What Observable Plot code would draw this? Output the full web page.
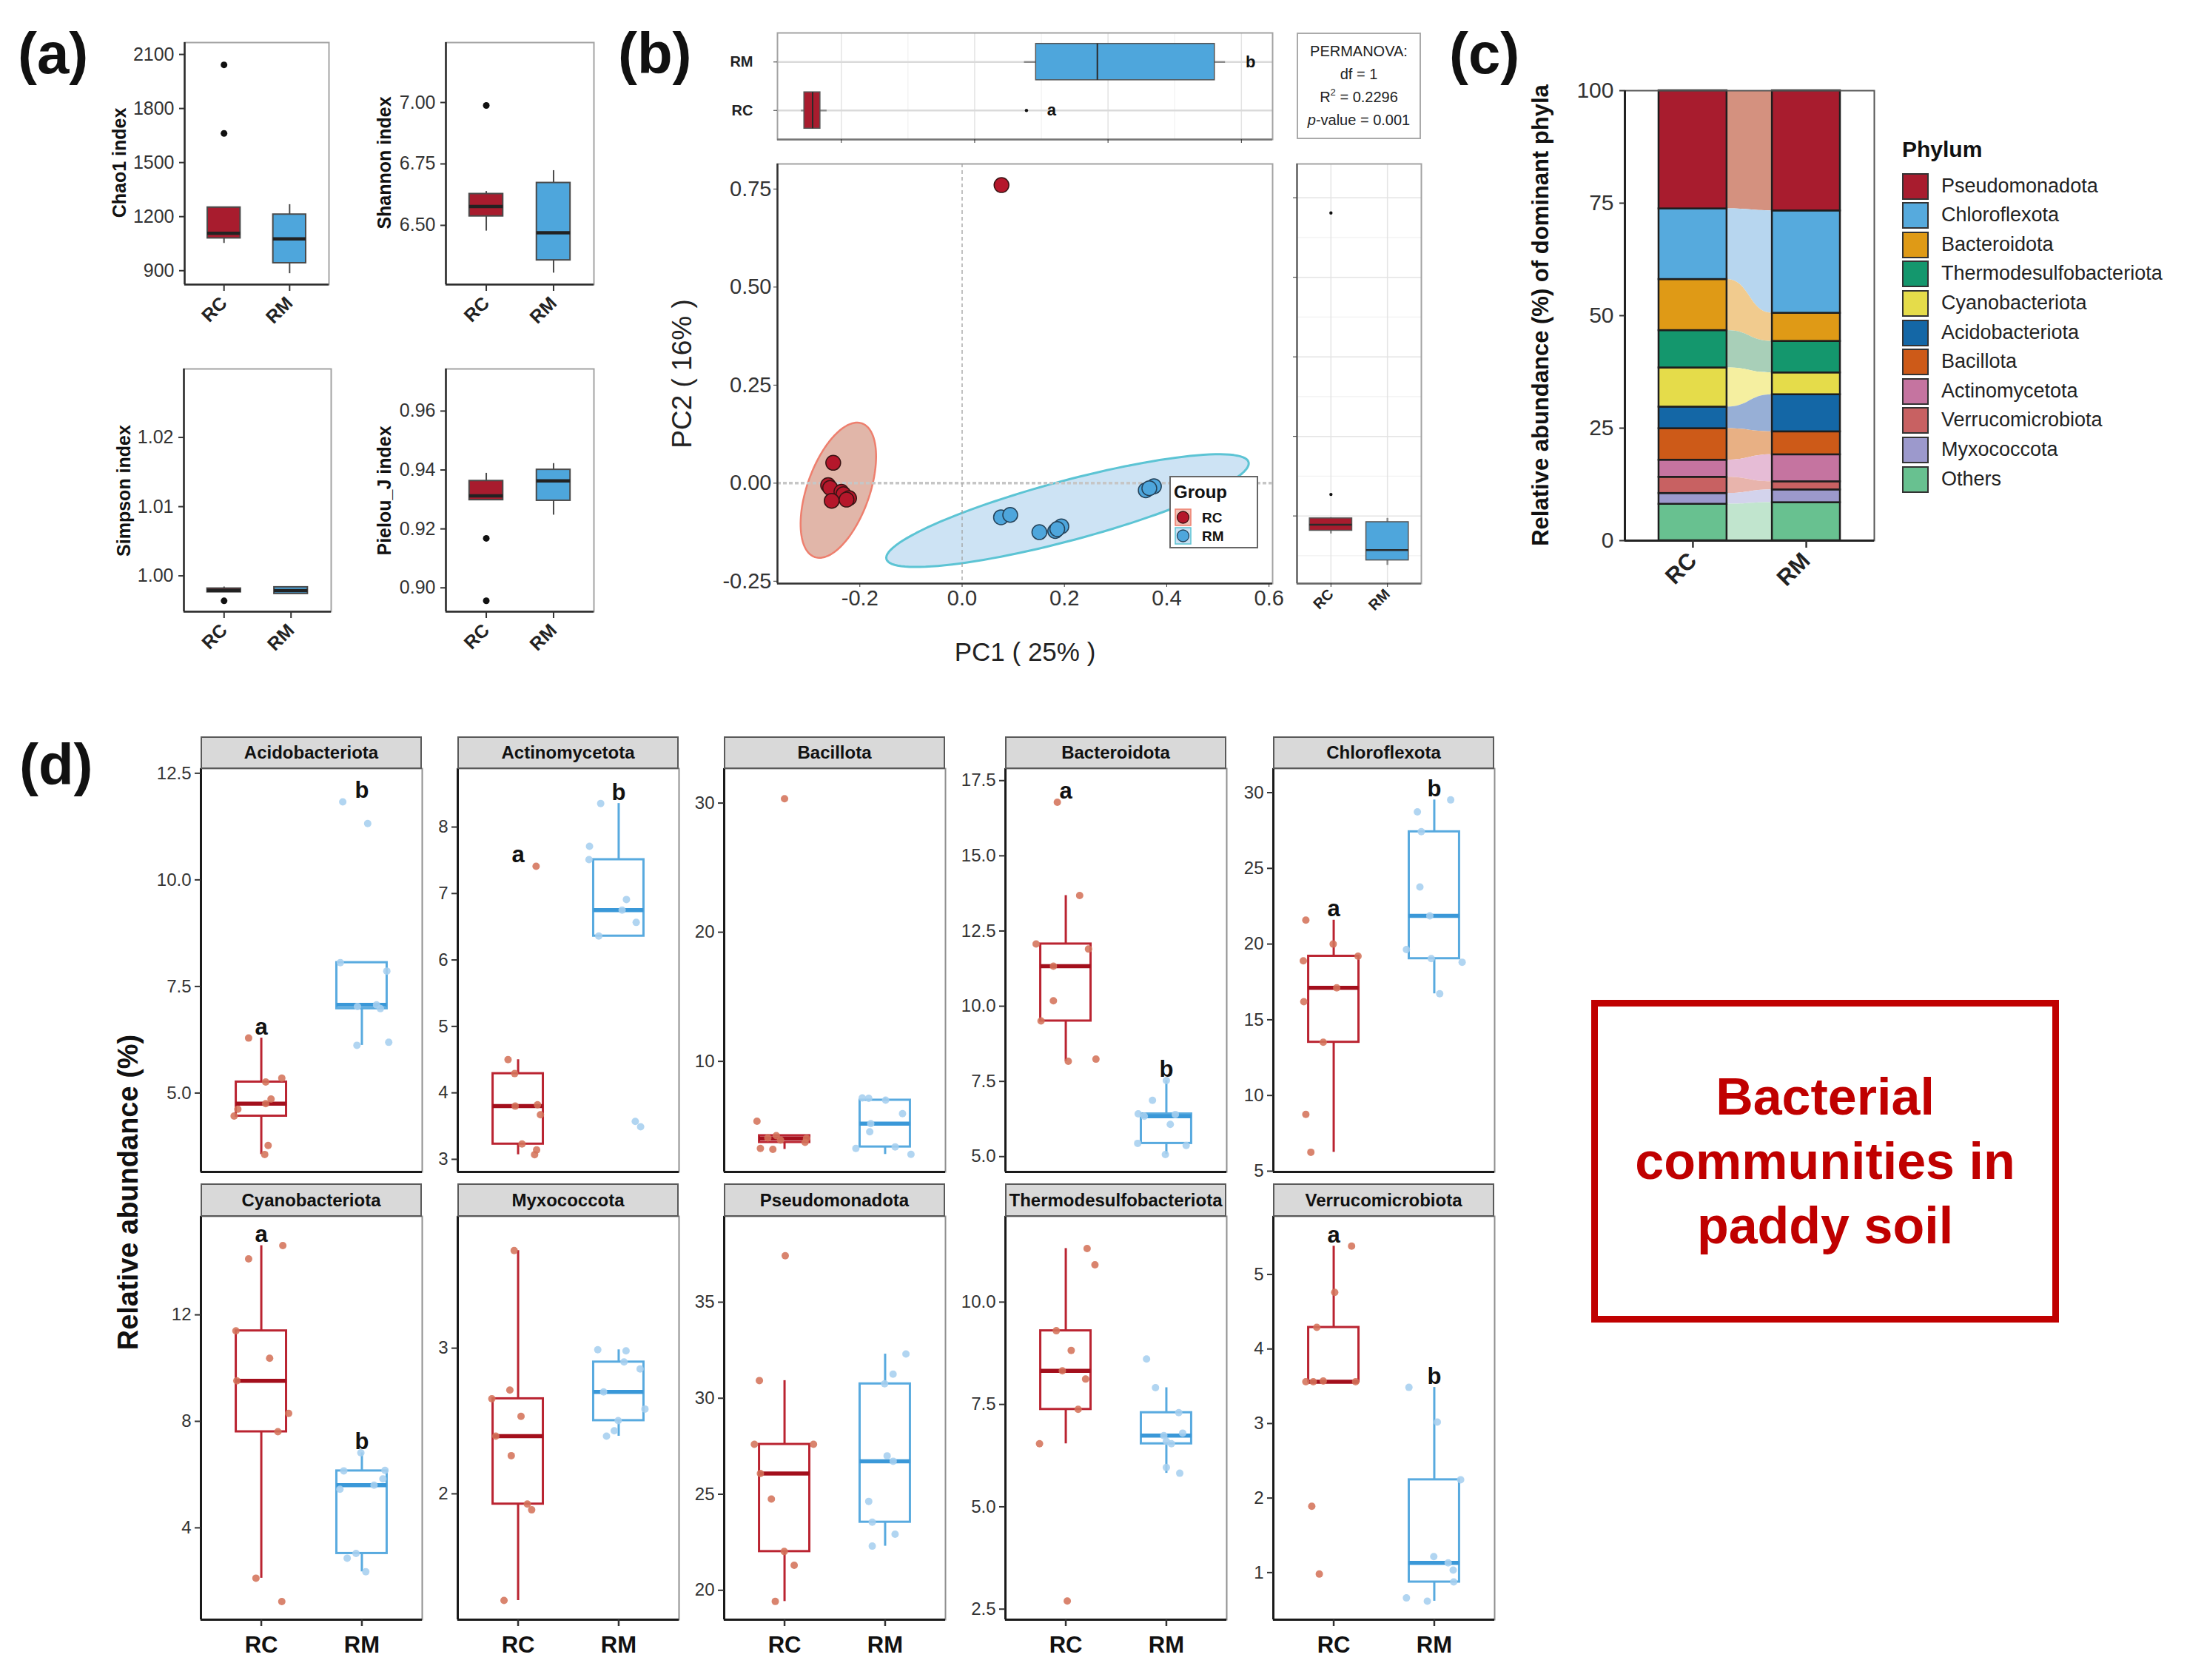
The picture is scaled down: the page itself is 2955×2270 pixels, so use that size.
<!DOCTYPE html>
<html><head><meta charset="utf-8">
<script src="https://cdn.jsdelivr.net/npm/d3@7"></script>
<script src="https://cdn.jsdelivr.net/npm/@observablehq/plot@0.6"></script>
<style>
body{margin:0;background:#fff;}
#fig{position:relative;width:2955px;height:2270px;overflow:hidden;background:#fff;font-family:"Liberation Sans",Arial,Helvetica,sans-serif;color:#111;}
.t{position:absolute;white-space:nowrap;line-height:1;}
.rot{position:absolute;white-space:nowrap;line-height:1;transform:translate(-50%,-50%) rotate(-90deg);}
</style></head>
<body><div id="fig"></div>
<script>
// ---------------- DATA ----------------
const groups = ["RC", "RM"];

// (a) alpha diversity box summaries
const chao1Box = [{group:"RC", lo:1052, q1:1080, med:1107, q3:1251, hi:1251}, {group:"RM", lo:884, q1:942, med:1077, q3:1212, hi:1267}];
const chao1Out = [{group:"RC", v:2042}, {group:"RC", v:1662}];
const chao1Ticks = [900, 1200, 1500, 1800, 2100];
const shannonBox = [{group:"RC", lo:6.477, q1:6.537, med:6.577, q3:6.628, hi:6.638}, {group:"RM", lo:6.306, q1:6.358, med:6.47, q3:6.673, hi:6.723}];
const shannonOut = [{group:"RC", v:6.988}];
const shannonTicks = [6.50, 6.75, 7.00];
const simpsonBox = [{group:"RC", lo:0.99764, q1:0.99764, med:0.9979, q3:0.99818, hi:0.9984}, {group:"RM", lo:0.9974, q1:0.9974, med:0.99786, q3:0.99836, hi:0.99836}];
const simpsonOut = [{group:"RC", v:0.99639}];
const simpsonTicks = [1.00, 1.01, 1.02];
const pielouBox = [{group:"RC", lo:0.9298, q1:0.9298, med:0.9312, q3:0.9363, hi:0.9389}, {group:"RM", lo:0.9247, q1:0.9296, med:0.9363, q3:0.9401, hi:0.9422}];
const pielouOut = [{group:"RC", v:0.9168}, {group:"RC", v:0.8956}];
const pielouTicks = [0.90, 0.92, 0.94, 0.96];

// (b) PCoA
const pcoaRC = [{pc1:-0.252, pc2:0.052}, {pc1:-0.262, pc2:-0.005}, {pc1:-0.258, pc2:-0.012}, {pc1:-0.236, pc2:-0.022}, {pc1:-0.232, pc2:-0.028}, {pc1:-0.221, pc2:-0.038}, {pc1:-0.255, pc2:-0.045}, {pc1:-0.226, pc2:-0.042}, {pc1:0.077, pc2:0.76}];
const pcoaRM = [{pc1:0.076, pc2:-0.087}, {pc1:0.094, pc2:-0.081}, {pc1:0.151, pc2:-0.125}, {pc1:0.182, pc2:-0.122}, {pc1:0.194, pc2:-0.110}, {pc1:0.186, pc2:-0.117}, {pc1:0.359, pc2:-0.018}, {pc1:0.375, pc2:-0.008}, {pc1:0.366, pc2:-0.013}];
const ellipseRC = {cx:-0.242, cy:-0.018, ux:0.047, uy:0.170, vx:0.0569, vy:-0.0287};
const ellipseRM = {cx:0.206, cy:-0.070, ux:0.354, uy:0.1235, vx:0.015, vy:-0.0736};
const pc1Box = [{group:"RC", lo:-0.26, q1:-0.2555, med:-0.243, q3:-0.2315, hi:-0.2215}, {group:"RM", lo:0.0745, q1:0.092, med:0.184, q3:0.36, hi:0.376}];
const pc1Out = [{group:"RC", v:0.0777}];
const pc2Box = [{group:"RC", lo:-0.045, q1:-0.037, med:-0.022, q3:-0.006, hi:-0.004}, {group:"RM", lo:-0.124, q1:-0.1116, med:-0.0856, q3:-0.0155, hi:-0.006}];
const pc2Out = [{group:"RC", v:0.054}, {group:"RC", v:0.7617}];
const pc1Letters = {RC:"a", RM:"b"};
const pcXTicks = [-0.2, 0, 0.2, 0.4, 0.6];
const pcYTicks = [-0.25, 0, 0.25, 0.5, 0.75];

// (c) composition (%)
const phylaOrder = ["Pseudomonadota","Chloroflexota","Bacteroidota","Thermodesulfobacteriota","Cyanobacteriota","Acidobacteriota","Bacillota","Actinomycetota","Verrucomicrobiota","Myxococcota","Others"];
const phylaColors = ["#A81C2E","#56AADD","#DF9A16","#14976D","#E5DC4A","#1467A6","#CD5A18","#C574A0","#C86162","#9C99CC","#68C190"];
const flowColors = ["#D4917F","#B7D6EF","#F1CB8E","#A8CFB8","#F5EFA0","#97AFD6","#E8B084","#E6BCD6","#E8B4AC","#D3D3EC","#C1E5CE"];
const compRC = [26.25, 15.7, 11.35, 8.3, 8.7, 4.8, 7.0, 3.8, 3.6, 2.4, 8.1];
const compRM = [26.7, 22.75, 6.25, 7.0, 4.85, 8.25, 5.1, 6.0, 1.8, 2.85, 8.45];
const compTicks = [0, 25, 50, 75, 100];

// (d) relative abundance per sample
const facetPhyla = ["Acidobacteriota","Actinomycetota","Bacillota","Bacteroidota","Chloroflexota","Cyanobacteriota","Myxococcota","Pseudomonadota","Thermodesulfobacteriota","Verrucomicrobiota"];
const rcAbund = {
  Acidobacteriota:[6.29,5.26,5.35,4.86,4.75,4.46,4.62,3.77,3.56],
  Actinomycetota:[7.41,4.50,4.29,3.80,3.82,3.67,3.23,3.14,3.07],
  Bacillota:[30.33,5.37,3.26,3.19,4.25,4.04,3.73,4.08,3.9],
  Bacteroidota:[16.78,13.68,12.07,11.9,11.33,10.18,9.51,8.17,8.24],
  Chloroflexota:[21.58,20.0,19.2,18.89,17.11,16.19,13.52,8.75,6.25],
  Cyanobacteriota:[14.6,14.1,11.4,10.37,9.52,8.3,7.61,2.11,1.23],
  Myxococcota:[3.67,2.712,2.653,2.532,2.396,2.262,1.93,1.89,1.268],
  Pseudomonadota:[37.42,30.92,27.6,27.6,26.08,24.75,22.02,21.30,19.42],
  Thermodesulfobacteriota:[11.31,10.91,9.30,8.82,8.32,8.12,7.38,6.54,2.70],
  Verrucomicrobiota:[5.38,4.76,4.29,3.56,3.56,3.57,3.56,1.89,0.98]
};
const rcJitter = {
  Acidobacteriota:[-0.126,0.044,0.204,0.097,0.044,-0.27,-0.233,0.068,0.034],
  Actinomycetota:[0.179,-0.10,-0.034,-0.029,0.193,0.222,0.039,0.184,0.164],
  Bacillota:[0,-0.274,-0.24,-0.116,-0.082,0.219,0.204,-0.166,-0.04],
  Bacteroidota:[-0.084,0.138,-0.295,0.226,-0.123,-0.123,-0.246,0.025,0.3],
  Chloroflexota:[-0.277,-0.005,0.242,-0.302,0.03,-0.297,-0.104,-0.277,-0.227],
  Cyanobacteriota:[0.214,-0.126,-0.252,0.083,-0.243,0.272,0.165,-0.053,0.204],
  Myxococcota:[-0.039,-0.082,-0.261,0.029,-0.222,-0.068,0.092,0.135,-0.14],
  Pseudomonadota:[0.007,-0.25,-0.3,0.288,-0.24,-0.131,-0.003,0.096,-0.092],
  Thermodesulfobacteriota:[0.212,0.29,-0.094,0.054,-0.034,0.197,0.123,-0.261,0.015],
  Verrucomicrobiota:[0.178,0.01,-0.168,-0.277,-0.203,-0.104,0.218,-0.218,-0.143]
};
const rmAbund = {
  Acidobacteriota:[11.83,11.32,8.06,7.86,7.03,7.07,6.98,6.12,6.19],
  Actinomycetota:[8.355,7.71,7.51,6.91,6.75,6.565,6.36,3.57,3.49],
  Bacillota:[7.17,7.14,7.0,5.95,5.18,4.55,3.38,3.26,2.80],
  Bacteroidota:[7.53,6.87,6.42,6.40,6.34,6.07,5.44,5.37,5.07],
  Chloroflexota:[29.52,28.73,27.42,23.77,21.86,19.64,19.04,18.8,16.72],
  Cyanobacteriota:[6.82,6.14,5.84,5.60,5.45,3.04,2.86,2.35,6.16],
  Myxococcota:[2.989,2.982,2.905,2.857,2.70,2.582,2.503,2.433,2.396],
  Pseudomonadota:[32.3,31.25,30.75,27.0,26.72,24.63,23.55,22.92,22.3],
  Thermodesulfobacteriota:[8.61,7.91,7.30,6.80,6.74,6.60,5.96,5.82,6.54],
  Verrucomicrobiota:[3.485,3.02,2.246,1.215,1.13,1.034,0.874,0.66,0.617]
};
const rmJitter = {
  Acidobacteriota:[-0.19,0.058,-0.214,0.248,-0.044,0.146,0.184,-0.049,0.267],
  Actinomycetota:[-0.179,-0.29,-0.295,0.077,0.034,0.174,-0.198,0.165,0.218],
  Bacillota:[-0.227,-0.163,0.005,0.173,-0.143,-0.153,0.1,-0.291,0.257],
  Bacteroidota:[0,-0.138,-0.28,0.089,-0.22,0.039,-0.285,0.197,-0.01],
  Chloroflexota:[0.163,-0.168,-0.129,-0.143,-0.044,-0.277,-0.03,0.277,0.054],
  Cyanobacteriota:[-0.01,-0.18,0.209,0.121,-0.218,-0.058,-0.146,0.039,0.23],
  Myxococcota:[-0.208,0.073,0.053,0.213,-0.15,0.261,-0.005,-0.044,-0.121],
  Pseudomonadota:[0.207,0.079,-0.005,0.02,0.08,-0.163,-0.128,0.099,-0.128],
  Thermodesulfobacteriota:[-0.197,-0.108,0.123,0.162,-0.025,0,0,0.133,0.05],
  Verrucomicrobiota:[-0.252,0.03,0.262,-0.005,0.138,0.188,0.193,-0.277,-0.069]
};
const facetTicks = {
  Acidobacteriota:[5,7.5,10,12.5], Actinomycetota:[3,4,5,6,7,8], Bacillota:[10,20,30],
  Bacteroidota:[5,7.5,10,12.5,15,17.5], Chloroflexota:[5,10,15,20,25,30], Cyanobacteriota:[4,8,12],
  Myxococcota:[2,3], Pseudomonadota:[20,25,30,35], Thermodesulfobacteriota:[2.5,5,7.5,10], Verrucomicrobiota:[1,2,3,4,5]
};
const sigLetters = {Acidobacteriota:["a","b"], Actinomycetota:["a","b"], Bacteroidota:["a","b"], Chloroflexota:["a","b"], Cyanobacteriota:["a","b"], Verrucomicrobiota:["a","b"]};

// ---------------- LAYOUT / STYLE ----------------
const FONT = '"Liberation Sans", Arial, Helvetica, sans-serif';
const fig = document.getElementById("fig");
const gpos = {RC:1, RM:2};
const RED = "#A81C2E", BLUE = "#4EA6DC";
const facetDomains = {
  Acidobacteriota:[3.15,12.61], Actinomycetota:[2.81,8.88], Bacillota:[1.44,32.67], Bacteroidota:[4.49,17.9],
  Chloroflexota:[4.95,31.59], Cyanobacteriota:[0.55,15.7], Myxococcota:[1.136,3.905], Pseudomonadota:[18.47,39.47],
  Thermodesulfobacteriota:[2.242,12.095], Verrucomicrobiota:[0.368,5.78]
};

function put(el, left, top) { el.style.position = "absolute"; el.style.left = left + "px"; el.style.top = top + "px"; fig.appendChild(el); return el; }
function mkPlot(fr, m, opts) {
  const p = Plot.plot(Object.assign({
    width: fr.w + m.l + m.r, height: fr.h + m.t + m.b,
    marginLeft: m.l, marginTop: m.t, marginRight: m.r, marginBottom: m.b,
    style: {fontFamily: FONT, background: "transparent", overflow: "visible", color: "#333"}
  }, opts));
  return put(p, fr.x - m.l, fr.y - m.t);
}
function div(html, left, top, css) {
  const d = document.createElement("div"); d.className = "t"; d.innerHTML = html;
  d.style.left = left + "px"; d.style.top = top + "px"; if (css) d.style.cssText += css; fig.appendChild(d); return d;
}
function vtitle(txt, cx, cy, css) {
  const d = document.createElement("div"); d.className = "rot"; d.textContent = txt;
  d.style.left = cx + "px"; d.style.top = cy + "px"; if (css) d.style.cssText += css; fig.appendChild(d); return d;
}
const gLabel = d => groups[d - 1];

// vertical box summary marks
function vBoxes(box, outl, o) {
  const ms = [];
  for (const g of groups) {
    const c = gpos[g], st = box.filter(d => d.group === g);
    ms.push(
      Plot.ruleX(st, {x: () => c, y1: "lo", y2: "q1", stroke: o.line, strokeWidth: o.lw}),
      Plot.ruleX(st, {x: () => c, y1: "q3", y2: "hi", stroke: o.line, strokeWidth: o.lw}),
      Plot.rect(st, {x1: () => c - o.w / 2, x2: () => c + o.w / 2, y1: "q1", y2: "q3", fill: o.fill[g], stroke: o.line, strokeWidth: o.lw}),
      Plot.ruleY(st, {y: "med", x1: () => c - o.w / 2, x2: () => c + o.w / 2, stroke: o.med, strokeWidth: o.mw}),
      Plot.dot(outl.filter(d => d.group === g), {x: () => c, y: "v", r: o.r, fill: "#111", stroke: "none"})
    );
  }
  return ms;
}

// ---------------- (a) ----------------
function alphaPlot(fr, box, outl, ticks, domain, fmt) {
  return mkPlot(fr, {l: 100, t: 4, r: 4, b: 90}, {
    x: {domain: [0.4, 2.6], axis: null},
    y: {domain, axis: null},
    marks: [
      Plot.frame({stroke: "#a3a3a3", strokeWidth: 2}),
      ...vBoxes(box, outl, {w: 0.5, fill: {RC: RED, RM: BLUE}, line: "#4a4a4a", lw: 2, med: "#222", mw: 4.5, r: 4.5}),
      Plot.ruleX([0.4], {stroke: "#2a2a2a", strokeWidth: 2.5}),
      Plot.ruleY([domain[0]], {stroke: "#2a2a2a", strokeWidth: 2.5}),
      Plot.axisY({ticks, tickFormat: fmt, tickSize: 7, tickPadding: 7, fontSize: 25, fill: "#333", strokeWidth: 2, label: null}),
      Plot.axisX({ticks: [1, 2], tickFormat: gLabel, tickRotate: -45, tickSize: 9, tickPadding: 12, fontSize: 25, fontWeight: "bold", fill: "#222", strokeWidth: 2, label: null})
    ]
  });
}
alphaPlot({x: 249, y: 57, w: 195, h: 327}, chao1Box, chao1Out, chao1Ticks, [823, 2166], d => String(d));
alphaPlot({x: 602, y: 57, w: 200, h: 327}, shannonBox, shannonOut, shannonTicks, [6.259, 7.244], d => d.toFixed(2));
alphaPlot({x: 248, y: 498, w: 199, h: 328}, simpsonBox, simpsonOut, simpsonTicks, [0.99482, 1.0299], d => d.toFixed(2));
alphaPlot({x: 602, y: 498, w: 200, h: 328}, pielouBox, pielouOut, pielouTicks, [0.8919, 0.9743], d => d.toFixed(2));
vtitle("Chao1 index", 161, 220, "font-weight:bold;font-size:25px;");
vtitle("Shannon index", 519, 220, "font-weight:bold;font-size:25px;");
vtitle("Simpson index", 167, 663, "font-weight:bold;font-size:25px;");
vtitle("Pielou_J index", 519, 663, "font-weight:bold;font-size:25px;");

// ---------------- (b) ----------------
function ellipsePts(e) {
  return d3.range(0, 360, 3).map(a => { const t = a * Math.PI / 180; return {x: e.cx + e.ux * Math.cos(t) + e.vx * Math.sin(t), y: e.cy + e.uy * Math.cos(t) + e.vy * Math.sin(t)}; });
}
const xDomPC = [-0.361, 0.607], yDomPC = [-0.256, 0.814];
mkPlot({x: 1050, y: 221, w: 669, h: 567}, {l: 90, t: 4, r: 4, b: 50}, {
  x: {domain: xDomPC, axis: null}, y: {domain: yDomPC, axis: null},
  marks: [
    Plot.frame({stroke: "#a3a3a3", strokeWidth: 2}),
    Plot.line(ellipsePts(ellipseRC), {x: "x", y: "y", curve: "linear-closed", fill: "#C97A63", fillOpacity: 0.55, stroke: "#EE7F6E", strokeWidth: 2.5}),
    Plot.line(ellipsePts(ellipseRM), {x: "x", y: "y", curve: "linear-closed", fill: "#9CC8EA", fillOpacity: 0.5, stroke: "#5CC4D4", strokeWidth: 3}),
    Plot.ruleY([0], {stroke: "#c6c6c6", strokeWidth: 3.5, strokeDasharray: "5 3"}),
    Plot.ruleX([0], {stroke: "#a0a0a0", strokeWidth: 1.3, strokeDasharray: "5 4"}),
    Plot.dot(pcoaRC, {x: "pc1", y: "pc2", r: 10, fill: "#B5172B", stroke: "#3a1414", strokeWidth: 1.5}),
    Plot.dot(pcoaRM, {x: "pc1", y: "pc2", r: 10, fill: "#4EA6DC", stroke: "#24435a", strokeWidth: 1.5}),
    Plot.ruleX([xDomPC[0]], {stroke: "#333", strokeWidth: 2.5}),
    Plot.ruleY([yDomPC[0]], {stroke: "#333", strokeWidth: 2.5}),
    Plot.axisX({ticks: pcXTicks, tickFormat: d => d.toFixed(1), tickSize: 5, tickPadding: 4, fontSize: 29, fill: "#333", label: null}),
    Plot.axisY({ticks: pcYTicks, tickFormat: d => d.toFixed(2), tickSize: 5, tickPadding: 3, fontSize: 29, fill: "#333", label: null})
  ]
});
// top marginal box (PC1)
const pc1Dom = [-0.2957, 0.4468];
const pc1Marks = [
  Plot.ruleX([-0.1, 0.1, 0.3], {stroke: "#f1f1f1", strokeWidth: 1.2}),
  Plot.ruleX([-0.2, 0, 0.2, 0.4], {stroke: "#e4e4e4", strokeWidth: 1.5}),
  Plot.ruleY([1, 2], {stroke: "#dadada", strokeWidth: 2.5})
];
for (const g of groups) {
  const c = gpos[g], st = pc1Box.filter(d => d.group === g), w = 0.75;
  pc1Marks.push(
    Plot.ruleY(st, {y: () => c, x1: "lo", x2: "q1", stroke: "#8d8d8d", strokeWidth: 2.5}),
    Plot.ruleY(st, {y: () => c, x1: "q3", x2: "hi", stroke: "#8d8d8d", strokeWidth: 2.5}),
    Plot.rect(st, {y1: () => c - w / 2, y2: () => c + w / 2, x1: "q1", x2: "q3", fill: g === "RC" ? RED : BLUE, stroke: "#555", strokeWidth: 1.5}),
    Plot.ruleX(st, {x: "med", y1: () => c - w / 2, y2: () => c + w / 2, stroke: "#2a2a2a", strokeWidth: 2}),
    Plot.dot(pc1Out.filter(d => d.group === g), {x: "v", y: () => c, r: 2.2, fill: "#111", stroke: "none"})
  );
}
const pc1LetterRows = groups.map(g => ({group: g, t: pc1Letters[g], x: d3.max([...pc1Box.filter(d => d.group === g).map(d => d.hi), ...pc1Out.filter(d => d.group === g).map(d => d.v)])}));
pc1Marks.push(
  Plot.text(pc1LetterRows, {x: "x", y: d => gpos[d.group], text: "t", dx: 34, fontSize: 22, fontWeight: "bold", fill: "#111"}),
  Plot.frame({stroke: "#a3a3a3", strokeWidth: 2}),
  Plot.ruleY([0.4], {stroke: "#777", strokeWidth: 2.5}),
  Plot.axisY({ticks: [1, 2], tickFormat: gLabel, tickSize: 5, tickPadding: 28, fontSize: 20, fontWeight: "bold", fill: "#222", label: null}),
  Plot.axisX({ticks: [-0.2, 0, 0.2, 0.4], tickFormat: () => "", tickSize: 5, label: null})
);
mkPlot({x: 1050, y: 44, w: 669, h: 144}, {l: 80, t: 2, r: 4, b: 12}, {
  x: {domain: pc1Dom, axis: null}, y: {domain: [0.4, 2.6], axis: null}, marks: pc1Marks
});
// right marginal box (PC2)
const pc2Dom = [-0.170, 0.885];
const pc2Marks = [
  Plot.ruleY([-0.1, 0.1, 0.3, 0.5, 0.7], {stroke: "#f1f1f1", strokeWidth: 1.2}),
  Plot.ruleY([0, 0.2, 0.4, 0.6, 0.8], {stroke: "#e4e4e4", strokeWidth: 1.5}),
  Plot.ruleX([1, 2], {stroke: "#e4e4e4", strokeWidth: 1.5})
];
for (const g of groups) {
  const c = gpos[g], st = pc2Box.filter(d => d.group === g), w = 0.75;
  pc2Marks.push(
    Plot.ruleX(st, {x: () => c, y1: "lo", y2: "q1", stroke: "#8d8d8d", strokeWidth: 2.5}),
    Plot.ruleX(st, {x: () => c, y1: "q3", y2: "hi", stroke: "#8d8d8d", strokeWidth: 2.5}),
    Plot.rect(st, {x1: () => c - w / 2, x2: () => c + w / 2, y1: "q1", y2: "q3", fill: g === "RC" ? RED : BLUE, stroke: "#555", strokeWidth: 1.5}),
    Plot.ruleY(st, {y: "med", x1: () => c - w / 2, x2: () => c + w / 2, stroke: "#2a2a2a", strokeWidth: 2.5}),
    Plot.dot(pc2Out.filter(d => d.group === g), {x: () => c, y: "v", r: 2.2, fill: "#111", stroke: "none"})
  );
}
pc2Marks.push(
  Plot.frame({stroke: "#a3a3a3", strokeWidth: 2}),
  Plot.ruleX([0.4], {stroke: "#666", strokeWidth: 2.5}),
  Plot.ruleY([pc2Dom[0]], {stroke: "#666", strokeWidth: 2.5}),
  Plot.axisY({ticks: [0, 0.2, 0.4, 0.6, 0.8], tickFormat: () => "", tickSize: 5, label: null}),
  Plot.axisX({ticks: [1, 2], tickFormat: gLabel, tickRotate: -45, tickSize: 5, tickPadding: 6, fontSize: 20, fontWeight: "bold", fill: "#222", label: null})
);
mkPlot({x: 1752, y: 221, w: 168, h: 567}, {l: 10, t: 2, r: 4, b: 60}, {
  x: {domain: [0.4, 2.6], axis: null}, y: {domain: pc2Dom, axis: null}, marks: pc2Marks
});
// PERMANOVA box
div('<div style="text-align:center;white-space:nowrap;">PERMANOVA:<br>df = 1<br>R<sup style="font-size:13px;vertical-align:9px;line-height:0">2</sup> = 0.2296<br><i>p</i>-value = 0.001</div>', 1752, 44,
  "width:168px;height:144px;box-sizing:border-box;border:2px solid #aaa;display:flex;align-items:center;justify-content:center;font-size:20px;line-height:31px;color:#222;background:#fff;");
// Group legend
div('<div style="position:absolute;left:4px;top:8px;font-weight:bold;font-size:24px;">Group</div>' +
  '<svg style="position:absolute;left:5px;top:42px" width="24" height="50">' +
  '<rect x="1" y="1" width="21" height="22" fill="#F2C0B5" stroke="#EE7F6E" stroke-width="1.5"/><circle cx="11.5" cy="12" r="8" fill="#B5172B" stroke="#3a1414" stroke-width="1.3"/>' +
  '<rect x="1" y="26" width="21" height="22" fill="#C8E1F3" stroke="#5CC4D4" stroke-width="1.5"/><circle cx="11.5" cy="37" r="8" fill="#4EA6DC" stroke="#24435a" stroke-width="1.3"/></svg>' +
  '<div style="position:absolute;left:42px;top:45px;font-weight:bold;font-size:19px;">RC</div>' +
  '<div style="position:absolute;left:42px;top:70px;font-weight:bold;font-size:19px;">RM</div>', 1580, 643,
  "width:120px;height:98px;box-sizing:border-box;border:2px solid #666;background:#fff;");
vtitle("PC2 ( 16% )", 921, 505, "font-size:37px;color:#222;");
div("PC1 ( 25% )", 1385, 880, "font-size:35px;color:#222;transform:translate(-50%,-50%);");

// ---------------- (c) ----------------
const stackRows = [];
for (const [g, comp] of [["RC", compRC], ["RM", compRM]]) {
  let acc = 0;
  for (let i = phylaOrder.length - 1; i >= 0; --i) { stackRows.push({group: g, phylum: phylaOrder[i], y1: acc, y2: acc + comp[i]}); acc += comp[i]; }
}
const flowRows = [];
for (const p of phylaOrder) {
  const a = stackRows.find(d => d.group === "RC" && d.phylum === p), b = stackRows.find(d => d.group === "RM" && d.phylum === p);
  flowRows.push({phylum: p, x: gpos.RC + 0.3, y1: a.y1, y2: a.y2}, {phylum: p, x: gpos.RM - 0.3, y1: b.y1, y2: b.y2});
}
const flowColor = p => flowColors[phylaOrder.indexOf(p)];
const cMarks = phylaOrder.map(p => Plot.areaY(flowRows.filter(d => d.phylum === p), {x: "x", y1: "y1", y2: "y2", fill: flowColor(p), curve: "bump-x"}));
mkPlot({x: 2195, y: 122, w: 337, h: 608}, {l: 90, t: 4, r: 4, b: 90}, {
  x: {domain: [0.4, 2.6], axis: null}, y: {domain: [0, 100], axis: null},
  color: {domain: phylaOrder, range: phylaColors},
  marks: [
    ...cMarks,
    Plot.rect(stackRows, {x1: d => gpos[d.group] - 0.3, x2: d => gpos[d.group] + 0.3, y1: "y1", y2: "y2", fill: "phylum", stroke: "#1e1e1e", strokeWidth: 2.5}),
    Plot.frame({stroke: "#555", strokeWidth: 2}),
    Plot.ruleX([0.4], {stroke: "#222", strokeWidth: 3}),
    Plot.ruleY([0], {stroke: "#222", strokeWidth: 3}),
    Plot.axisY({ticks: compTicks, tickSize: 7, tickPadding: 8, fontSize: 30, fill: "#333", strokeWidth: 2, label: null}),
    Plot.axisX({ticks: [1, 2], tickFormat: gLabel, tickRotate: -45, tickSize: 10, tickPadding: 12, fontSize: 31, fontWeight: "bold", fill: "#222", strokeWidth: 2.5, label: null})
  ]
});
vtitle("Relative abundance (%) of dominant phyla", 2081, 426, "font-weight:bold;font-size:31px;");
div("Phylum", 2570, 187, "font-weight:bold;font-size:30px;");
phylaOrder.forEach((p, i) => {
  const cy = 251.5 + 39.6 * i;
  div("", 2570, cy - 18, `width:36px;height:36px;box-sizing:border-box;border:2px solid #333;background:${phylaColors[i]};`);
  div(p, 2623, cy - 14, "font-size:27px;color:#222;");
});

// ---------------- (d) ----------------
const colLefts = [271, 618, 978, 1358, 1720], colW = 299;
const stripTops = [995, 1599], panelTops = [1038, 1643], panelH = 545;
const dCol = {RC: {line: "#BA2431", med: "#A30F1C", dot: "#D4735A"}, RM: {line: "#58AADF", med: "#3A98D8", dot: "#A6CFEF"}};
function boxStats(vals) {
  const s = vals.slice().sort(d3.ascending);
  const q1 = d3.quantile(s, 0.25), med = d3.quantile(s, 0.5), q3 = d3.quantile(s, 0.75), iqr = q3 - q1;
  return {q1, med, q3, lo: d3.min(s.filter(v => v >= q1 - 1.5 * iqr)), hi: d3.max(s.filter(v => v <= q3 + 1.5 * iqr))};
}
facetPhyla.forEach((name, i) => {
  const col = i % 5, row = Math.floor(i / 5);
  const fr = {x: colLefts[col], y: panelTops[row], w: colW, h: panelH};
  const dom = facetDomains[name], ticks = facetTicks[name];
  const fmt = ticks.some(t => !Number.isInteger(t)) ? (d => d.toFixed(1)) : (d => String(d));
  const vals = {RC: rcAbund[name], RM: rmAbund[name]}, jit = {RC: rcJitter[name], RM: rmJitter[name]};
  const marks = [Plot.frame({stroke: "#8f8f8f", strokeWidth: 2})];
  for (const g of groups) {
    const c = gpos[g], st = [{group: g, ...boxStats(vals[g])}], cl = dCol[g];
    const pts = vals[g].map((v, k) => ({x: c + jit[g][k], v}));
    marks.push(
      Plot.ruleX(st, {x: () => c, y1: "lo", y2: "q1", stroke: cl.line, strokeWidth: 3}),
      Plot.ruleX(st, {x: () => c, y1: "q3", y2: "hi", stroke: cl.line, strokeWidth: 3}),
      Plot.rect(st, {x1: () => c - 0.25, x2: () => c + 0.25, y1: "q1", y2: "q3", fill: "none", stroke: cl.line, strokeWidth: 3}),
      Plot.ruleY(st, {y: "med", x1: () => c - 0.25, x2: () => c + 0.25, stroke: cl.med, strokeWidth: 5.5}),
      Plot.dot(pts, {x: "x", y: "v", r: 5, fill: cl.dot, fillOpacity: 0.88, stroke: "none"})
    );
  }
  if (sigLetters[name]) {
    const lr = groups.map((g, k) => ({x: gpos[g], y: d3.max(vals[g]), t: sigLetters[name][k]}));
    marks.push(Plot.text(lr, {x: "x", y: "y", text: "t", lineAnchor: "bottom", dy: -5, fontSize: 31, fontWeight: "bold", fill: "#111"}));
  }
  marks.push(
    Plot.ruleX([0.4], {stroke: "#1a1a1a", strokeWidth: 3}),
    Plot.ruleY([dom[0]], {stroke: "#1a1a1a", strokeWidth: 3}),
    Plot.axisY({ticks, tickFormat: fmt, tickSize: 8, tickPadding: 5, fontSize: 24, fill: "#333", strokeWidth: 2, label: null})
  );
  if (row === 1) marks.push(Plot.axisX({ticks: [1, 2], tickFormat: gLabel, tickSize: 9, tickPadding: 13, fontSize: 31, fontWeight: "bold", fill: "#111", strokeWidth: 2.5, label: null}));
  mkPlot(fr, {l: 80, t: 2, r: 4, b: 70}, {x: {domain: [0.4, 2.6], axis: null}, y: {domain: dom, axis: null}, marks});
  div(name, colLefts[col], stripTops[row], `width:${colW}px;height:${panelTops[row] - stripTops[row] + 1}px;box-sizing:border-box;border:2px solid #5a5a5a;background:#D9D9D9;display:flex;align-items:center;justify-content:center;font-weight:bold;font-size:24px;color:#111;`);
});
vtitle("Relative abundance (%)", 173, 1611, "font-weight:bold;font-size:38px;");

// ---------------- panel letters & note ----------------
div("(a)", 24, 33, "font-weight:bold;font-size:78px;");
div("(b)", 835, 33, "font-weight:bold;font-size:78px;");
div("(c)", 1958, 33, "font-weight:bold;font-size:78px;");
div("(d)", 26, 994, "font-weight:bold;font-size:78px;");
div('<div style="text-align:center;white-space:nowrap;">Bacterial<br>communities in<br>paddy soil</div>', 2150, 1351,
  "width:632px;height:436px;box-sizing:border-box;border:9px solid #C00000;display:flex;align-items:center;justify-content:center;font-weight:bold;font-size:70px;line-height:87px;color:#C00000;");
</script></body></html>
